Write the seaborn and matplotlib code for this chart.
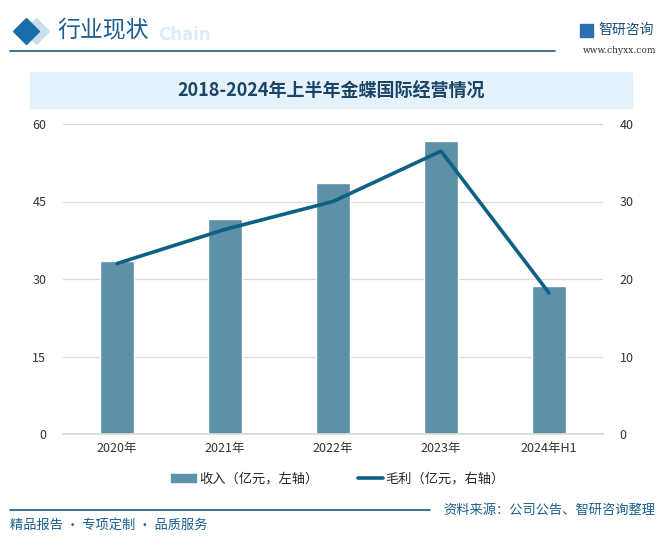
import matplotlib
matplotlib.use("Agg")
import matplotlib.pyplot as plt
import seaborn as sns
import pandas as pd
from matplotlib.patches import Rectangle, Patch
from matplotlib.lines import Line2D

# data
years = ["2020年", "2021年", "2022年", "2023年", "2024年H1"]
revenue = [33.5, 41.6, 48.6, 56.8, 28.7]      # 收入, 亿元, left axis
gross_profit = [22.0, 26.4, 30.0, 36.5, 18.2]  # 毛利, 亿元, right axis
left_ticks = [0, 15, 30, 45, 60]
right_ticks = [0, 10, 20, 30, 40]

BAR_COLOR = "#5e90a8"
LINE_COLOR = "#0b6285"

sns.set_theme(style="white")
plt.rcParams['font.family'] = ['Noto Sans CJK SC', 'DejaVu Sans']

W, H = 663, 541
fig = plt.figure(figsize=(W / 100, H / 100), dpi=100)


def fx(px):
    return px / W


def fy(py):
    return 1 - py / H


# header: two diamonds, faint "Chain", section title, rule
fig.add_artist(Line2D([fx(36)], [fy(31)], marker="D", markersize=13, color="#c9dfee", lw=0))
fig.add_artist(Line2D([fx(26)], [fy(31)], marker="D", markersize=13, color="#1a6ea8", lw=0))
fig.text(fx(158), fy(35), "Chain", color="#dcecf8", fontsize=12, fontweight="bold",
         va="center", ha="left", family="DejaVu Sans")
fig.text(fx(57), fy(31), "行业现状", color="#1a5f8e", fontsize=16.5, va="center", ha="left")
fig.add_artist(Line2D([fx(10), fx(555)], [fy(51), fy(51)], color="#1f5a82", lw=1.2))

# logo top right
fig.add_artist(Rectangle((fx(580), fy(37)), 13 / W, 13 / H, color="#2a6fb0"))
fig.text(fx(598), fy(30), "智研咨询", color="#1a4f7a", fontsize=10, va="center", ha="left")
fig.text(fx(656), fy(50), "www.chyxx.com", color="#333333", fontsize=6.5, va="center",
         ha="right", family="DejaVu Serif")

# title banner
fig.add_artist(Rectangle((fx(30), fy(108)), 602 / W, 36 / H, color="#e6f2fb", zorder=0))
fig.text(0.5, fy(91), "2018-2024年上半年金蝶国际经营情况", color="#1a4566", fontsize=13,
         fontweight="bold", va="center", ha="center")

# main chart
ax = fig.add_axes([fx(63), fy(434), 540 / W, 310 / H])
df = pd.DataFrame({"year": years, "revenue": revenue, "profit": gross_profit})
sns.barplot(data=df, x="year", y="revenue", color=BAR_COLOR, width=0.31,
            saturation=1, ax=ax, zorder=2)
ax.set_ylim(0, 60)
ax.set_yticks(left_ticks)
ax.set_xlabel("")
ax.set_ylabel("")
ax.grid(axis="y", color="#d9d9d9", lw=0.9, zorder=0)
ax.set_axisbelow(True)
for s in ax.spines.values():
    s.set_visible(False)
ax.spines["bottom"].set_visible(True)
ax.spines["bottom"].set_color("#d9d9d9")
ax.tick_params(axis="both", length=0, labelsize=9, colors="#333333")
ax.tick_params(axis="y", pad=12)
ax.tick_params(axis="x", pad=6)

ax2 = ax.twinx()
sns.lineplot(x=list(range(len(years))), y=gross_profit, color=LINE_COLOR, lw=2.6, ax=ax2)
ax2.set_ylim(0, 40)
ax2.set_yticks(right_ticks)
ax2.grid(False)
for s in ax2.spines.values():
    s.set_visible(False)
ax2.tick_params(axis="y", length=0, labelsize=9, colors="#333333", pad=12)
ax.set_xlim(-0.5, len(years) - 0.5)

# legend
handles = [Patch(color=BAR_COLOR), Line2D([0], [0], color=LINE_COLOR, lw=2.6)]
fig.legend(handles, ["收入（亿元，左轴）", "毛利（亿元，右轴）"], loc="center",
           bbox_to_anchor=(0.51, fy(479)), ncol=2, frameon=False, fontsize=9.5,
           handlelength=1.9, handleheight=0.5, columnspacing=3, handletextpad=0.2)

# footer
fig.add_artist(Line2D([fx(10), fx(430)], [fy(510), fy(510)], color="#1f5a82", lw=1.2))
fig.text(fx(655), fy(510), "资料来源：公司公告、智研咨询整理", color="#1a5f8e", fontsize=9.5,
         va="center", ha="right")
fig.text(fx(10), fy(525), "精品报告 · 专项定制 · 品质服务", color="#1a5f8e", fontsize=9.5,
         va="center", ha="left")

fig.savefig("out.png", dpi=100)
